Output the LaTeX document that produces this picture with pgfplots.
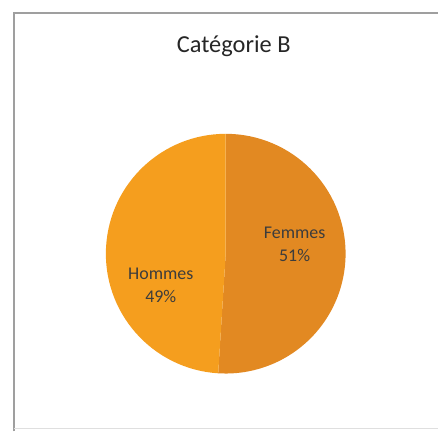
\documentclass[border=0pt]{standalone}
\usepackage{pgfplots}
\pgfplotsset{compat=1.18}
\usepackage{fontspec}
\setmainfont{Carlito}
\definecolor{hommes}{RGB}{245,158,30}
\definecolor{femmes}{RGB}{226,137,34}
\definecolor{txt}{RGB}{60,60,60}
\begin{document}
\begin{tikzpicture}
\begin{axis}[
  width=439bp, height=432bp, scale only axis,
  xmin=0, xmax=439, ymin=0, ymax=432,
  hide axis, clip=false,
]
% data: Femmes 51, Hommes 49
\pgfmathsetmacro{\vF}{51}
\pgfmathsetmacro{\vH}{49}
\pgfmathsetmacro{\aF}{90-3.6*\vF}
\path (axis cs:0,0) rectangle (axis cs:439,432);
% frame
\draw[gray!75, line width=1.1pt] (axis cs:14,0) -- (axis cs:14,419) -- (axis cs:439,419);
\draw[gray!25, line width=0.8pt] (axis cs:14,3) -- (axis cs:439,3);
% slices
\fill[femmes] (axis cs:226,178) -- ++(90:120bp) arc[start angle=90, end angle=\aF, radius=120bp] -- cycle;
\fill[hommes] (axis cs:226,178) -- ++(\aF:120bp) arc[start angle=\aF, end angle=-270, radius=120bp] -- cycle;
% title
\node[anchor=center, text=black!85, font=\fontsize{24.5}{28}\selectfont] at (axis cs:234,386) {Catégorie B};
% labels
\node[align=center, text=txt, font=\fontsize{18}{23}\selectfont] at (axis cs:295,187) {Femmes\\51\%};
\node[align=center, text=txt, font=\fontsize{18}{23}\selectfont] at (axis cs:161,146) {Hommes\\49\%};
\end{axis}
\end{tikzpicture}
\end{document}
